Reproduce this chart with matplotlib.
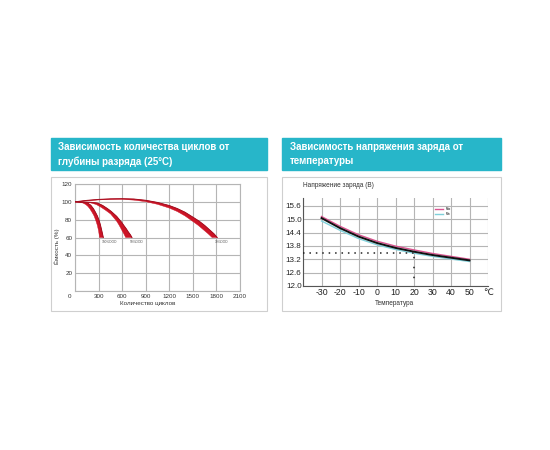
import numpy as np
import matplotlib
matplotlib.use("Agg")
import matplotlib.pyplot as plt
from matplotlib.patches import Rectangle

plt.rcParams["font.family"] = ["Liberation Sans", "DejaVu Sans"]

W, H = 550, 450

# left chart: cycle life vs depth of discharge (band edges)
dod100_outer_x = [0, 60, 120, 160, 200, 235, 262, 285, 305, 322, 337, 350, 360]
dod100_outer_y = [100, 99.8, 99.3, 98.6, 96.2, 92.2, 88, 84, 79.5, 74.5, 69, 64, 60]
dod100_inner_x = [0, 60, 100, 136, 165, 190, 215, 241, 263, 284, 300, 313]
dod100_inner_y = [100, 99.6, 98.7, 97, 94.8, 92, 88.5, 84.5, 79.5, 73.7, 67.5, 60]

dod50_outer_x = [0, 80, 150, 220, 284, 350, 411, 460, 495, 530, 560, 592, 621, 652, 680, 705, 725]
dod50_outer_y = [100, 99.9, 99.7, 99.3, 98.6, 96, 92.5, 89.3, 86.5, 83.7, 80.5, 77.2, 73.5, 69.8, 66, 63, 60]
dod50_inner_x = [0, 100, 200, 270, 330, 390, 453, 495, 530, 558, 582, 603, 625, 645]
dod50_inner_y = [100, 99.6, 98.8, 97, 94, 90.5, 86.4, 82, 78.3, 74.3, 70.5, 67, 63.5, 60]

dod30_outer_x = [0, 150, 300, 450, 600, 750, 900, 1050, 1200, 1300, 1400, 1500, 1580, 1650, 1720, 1770, 1810]
dod30_outer_y = [100, 101.6, 102.7, 103.3, 103.5, 103.1, 101.7, 99.3, 95.8, 92.5, 88.3, 82.8, 78.3, 73.5, 68, 64, 60]
dod30_inner_x = [0, 150, 300, 450, 600, 750, 900, 1050, 1200, 1300, 1400, 1500, 1570, 1630, 1690, 1745]
dod30_inner_y = [100, 101.2, 102.1, 102.7, 102.8, 101.9, 100.2, 97.2, 93, 89.2, 84.2, 78, 73.5, 69, 64.5, 60]

dod_labels = ["100%DOD", "50%DOD", "30%DOD"]

cycle_ticks = [0, 300, 600, 900, 1200, 1500, 1800, 2100]
capacity_ticks = [0, 20, 40, 60, 80, 100, 120]

# right chart: charge voltage vs temperature
temps = [-30, -20, -10, 0, 10, 20, 30, 40, 50]
volt_max = [15.12, 14.68, 14.30, 14.01, 13.79, 13.62, 13.46, 13.33, 13.20]
volt_mid = [15.05, 14.60, 14.22, 13.93, 13.71, 13.54, 13.39, 13.27, 13.15]
volt_min = [14.92, 14.50, 14.13, 13.85, 13.64, 13.47, 13.33, 13.21, 13.10]
ref_temp = 20
ref_volt = 13.5

temp_ticks = [-40, -30, -20, -10, 0, 10, 20, 30, 40, 50, 60]
volt_ticks = [12.0, 12.6, 13.2, 13.8, 14.4, 15.0, 15.6]

HEAD = "#27b6c9"
FRAME = "#cfcfcf"
GRID = "#b5b5b5"
RED = "#cc1426"


def fx(px):
    return px / W


def fy(py):
    return 1 - py / H


fig = plt.figure(figsize=(W / 100, H / 100), dpi=100)

# headers and panel frames
for x0, x1, lines in [
    (50.5, 267, ["Зависимость количества циклов от", "глубины разряда (25°C)"]),
    (282, 500.5, ["Зависимость напряжения заряда от", "температуры"]),
]:
    fig.patches.append(Rectangle((fx(x0), fy(169.5)), fx(x1 - x0), (169.5 - 138) / H,
                                 transform=fig.transFigure, color=HEAD, zorder=0))
    fig.patches.append(Rectangle((fx(x0), fy(311)), fx(x1 - x0), (311 - 177) / H,
                                 transform=fig.transFigure, facecolor="none",
                                 edgecolor=FRAME, lw=0.8, zorder=0))
    fig.text(fx(x0 + 8), fy(147.5), lines[0], color="white", fontsize=7,
             fontweight="bold", va="center", ha="left")
    fig.text(fx(x0 + 8), fy(161.5), lines[1], color="white", fontsize=7,
             fontweight="bold", va="center", ha="left")

# ---- left chart ----
ax1 = fig.add_axes([fx(75), fy(291), fx(165), 107 / H])
bands = [
    (dod100_outer_x, dod100_outer_y, dod100_inner_x, dod100_inner_y),
    (dod50_outer_x, dod50_outer_y, dod50_inner_x, dod50_inner_y),
    (dod30_outer_x, dod30_outer_y, dod30_inner_x, dod30_inner_y),
]
for (ox, oy, ix, iy), lab in zip(bands, dod_labels):
    px = list(ox) + list(ix[::-1])
    py = list(oy) + list(iy[::-1])
    ax1.fill(px, py, color=RED, lw=0.3, zorder=3)
    ax1.plot(ox, oy, color="#a30d1e", lw=0.7, zorder=4, solid_joinstyle="round")
    ax1.text(ox[-1] - 25, 57, lab, fontsize=2.3, color="#555555", ha="left", va="top")

ax1.set_xlim(0, 2100)
ax1.set_ylim(0, 120)
ax1.set_xticks(cycle_ticks)
ax1.set_yticks(capacity_ticks)
ax1.set_xticklabels(["" if t == 0 else str(t) for t in cycle_ticks])
ax1.set_yticklabels(["" if t == 0 else str(t) for t in capacity_ticks])
ax1.tick_params(length=0, labelsize=4.5, colors="#333333", pad=2)
ax1.grid(True, color=GRID, lw=0.8)
for s in ax1.spines.values():
    s.set_color(GRID)
    s.set_linewidth(0.8)
fig.text(fx(71), fy(297), "0", fontsize=4.5, color="#333333", ha="right", va="center")
fig.text(fx(148), fy(303.5), "Количество циклов", fontsize=4.5, color="#333333",
         ha="center", va="center")
fig.text(fx(57.5), fy(246), "Ёмкость (%)", fontsize=4.5, color="#333333",
         ha="center", va="center", rotation=90)

# ---- right chart ----
ax2 = fig.add_axes([fx(303), fy(286), fx(185), 88 / H])
ax2.plot(temps, volt_min, color="#7fd0da", lw=1.0, zorder=3, label="Min")
ax2.plot(temps, volt_max, color="#d9538f", lw=1.0, zorder=3, label="Max")
ax2.plot(temps, volt_mid, color="#111111", lw=1.4, zorder=4)
ax2.plot([temp_ticks[0], ref_temp], [ref_volt, ref_volt], color="#222222",
         lw=1.1, ls=(0, (1, 3.2)), zorder=5)
ax2.plot([ref_temp, ref_temp], [ref_volt, volt_ticks[0]], color="#222222",
         lw=1.1, ls=(4, (1, 5.5)), zorder=5)

ax2.set_xlim(-40, 60)
ax2.set_ylim(12.0, 15.95)
ax2.set_xticks(temp_ticks)
ax2.set_yticks(volt_ticks)
ax2.set_xticklabels(["" if t == -40 else ("℃" if t == 60 else str(t)) for t in temp_ticks])
ax2.set_yticklabels([f"{v:.1f}" for v in volt_ticks])
ax2.tick_params(axis="x", length=0, labelsize=6.3, colors="#222222", pad=1.5)
ax2.tick_params(axis="y", length=0, labelsize=5.8, colors="#222222", pad=1)
ax2.grid(True, color=GRID, lw=0.8)
ax2.spines["top"].set_visible(False)
ax2.spines["right"].set_visible(False)
ax2.spines["left"].set_color("#555555")
ax2.spines["bottom"].set_color("#555555")
ax2.legend(handles=ax2.get_lines()[1::-1], loc="upper left", bbox_to_anchor=(0.7, 0.93),
           fontsize=2, frameon=False, handlelength=3, labelspacing=0.6)
fig.text(fx(303), fy(185.5), "Напряжение заряда (В)", fontsize=4.7, color="#333333",
         ha="left", va="center")
fig.text(fx(394.5), fy(303.5), "Температура", fontsize=4.7, color="#333333",
         ha="center", va="center")

fig.savefig("out.png", dpi=100)
